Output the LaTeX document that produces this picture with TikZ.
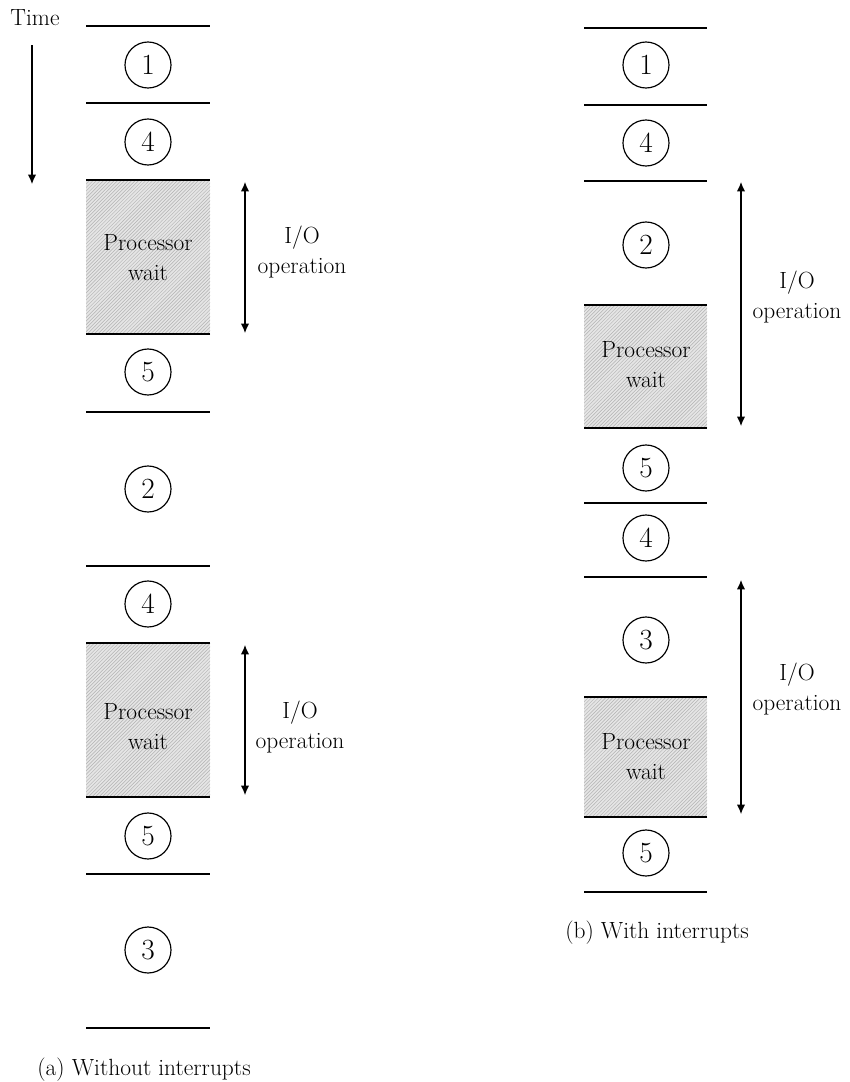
\documentclass[tikz,border=0pt]{standalone}
\usepackage{tikz}
\usetikzlibrary{patterns,arrows.meta}

\begin{document}
\begin{tikzpicture}[
            x=0.3mm, y=-0.3mm,
            txt/.style={font=\fontsize{20}{25.5}\selectfont,align=center,inner sep=0pt},
            job/.style={circle,draw,line width=1pt,minimum size=13.8mm,inner sep=0pt,font=\fontsize{25}{27}\selectfont},
            sep/.style={line width=1.1pt},
            io/.style={{Latex[length=2.8mm,width=2.5mm]}-{Latex[length=2.8mm,width=2.5mm]},line width=1pt}
        ]
            \useasboundingbox (0,0) rectangle (849,1082);

            % (a) without interrupts
            \fill [black!10] (86,180) rectangle (210,334);
            \fill [pattern=north east lines,pattern color=black!30] (86,180) rectangle (210,334);
            \fill [black!10] (86,643) rectangle (210,797);
            \fill [pattern=north east lines,pattern color=black!30] (86,643) rectangle (210,797);
            \draw [sep] (86,26)   -- (210,26);
            \draw [sep] (86,103)  -- (210,103);
            \draw [sep] (86,180)  -- (210,180);
            \draw [sep] (86,334)  -- (210,334);
            \draw [sep] (86,412)  -- (210,412);
            \draw [sep] (86,566)  -- (210,566);
            \draw [sep] (86,643)  -- (210,643);
            \draw [sep] (86,797)  -- (210,797);
            \draw [sep] (86,874)  -- (210,874);
            \draw [sep] (86,1028) -- (210,1028);
            \node (a1) [job] at (148,65)  {1};
            \node (a2) [job] at (148,142) {4};
            \node (a3) [job] at (148,372) {5};
            \node (a4) [job] at (148,489) {2};
            \node (a5) [job] at (148,604) {4};
            \node (a6) [job] at (148,836) {5};
            \node (a7) [job] at (148,950) {3};
            \node (wa1) [txt] at (148,258) {Processor\\wait};
            \node (wa2) [txt] at (148,727) {Processor\\wait};

            \node (time) [txt] at (35,18) {Time};
            \coordinate (t0) at (32,45);
            \coordinate (t1) at (32,184);
            \draw [-{Latex[length=2.8mm,width=2.5mm]},line width=1pt] (t0) -- (t1);

            \coordinate (ia1) at (245,182);
            \coordinate (ib1) at (245,333);
            \coordinate (ia2) at (245,645);
            \coordinate (ib2) at (245,795);
            \draw [io] (ia1) -- (ib1);
            \draw [io] (ia2) -- (ib2);
            \node (ioa1) [txt] at (302,252) {I/O\\operation};
            \node (ioa2) [txt] at (300,727) {I/O\\operation};

            \node (capa) [txt] at (144,1070) {(a) Without interrupts};

            % (b) with interrupts
            \fill [black!10] (584,305) rectangle (707,428);
            \fill [pattern=north east lines,pattern color=black!30] (584,305) rectangle (707,428);
            \fill [black!10] (584,697) rectangle (707,817);
            \fill [pattern=north east lines,pattern color=black!30] (584,697) rectangle (707,817);
            \draw [sep] (584,28)  -- (707,28);
            \draw [sep] (584,105) -- (707,105);
            \draw [sep] (584,181) -- (707,181);
            \draw [sep] (584,305) -- (707,305);
            \draw [sep] (584,428) -- (707,428);
            \draw [sep] (584,503) -- (707,503);
            \draw [sep] (584,577) -- (707,577);
            \draw [sep] (584,697) -- (707,697);
            \draw [sep] (584,817) -- (707,817);
            \draw [sep] (584,892) -- (707,892);
            \node (b1) [job] at (646,65)  {1};
            \node (b2) [job] at (646,143) {4};
            \node (b3) [job] at (646,245) {2};
            \node (b4) [job] at (646,468) {5};
            \node (b5) [job] at (646,538) {4};
            \node (b6) [job] at (646,640) {3};
            \node (b7) [job] at (646,853) {5};
            \node (wb1) [txt] at (646,365) {Processor\\wait};
            \node (wb2) [txt] at (646,757) {Processor\\wait};

            \coordinate (ja1) at (741,182);
            \coordinate (jb1) at (741,426);
            \coordinate (ja2) at (741,580);
            \coordinate (jb2) at (741,814);
            \draw [io] (ja1) -- (jb1);
            \draw [io] (ja2) -- (jb2);
            \node (iob1) [txt] at (797,297) {I/O\\operation};
            \node (iob2) [txt] at (797,689) {I/O\\operation};

            \node (capb) [txt] at (657,933) {(b) With interrupts};
        \end{tikzpicture}
\end{document}
